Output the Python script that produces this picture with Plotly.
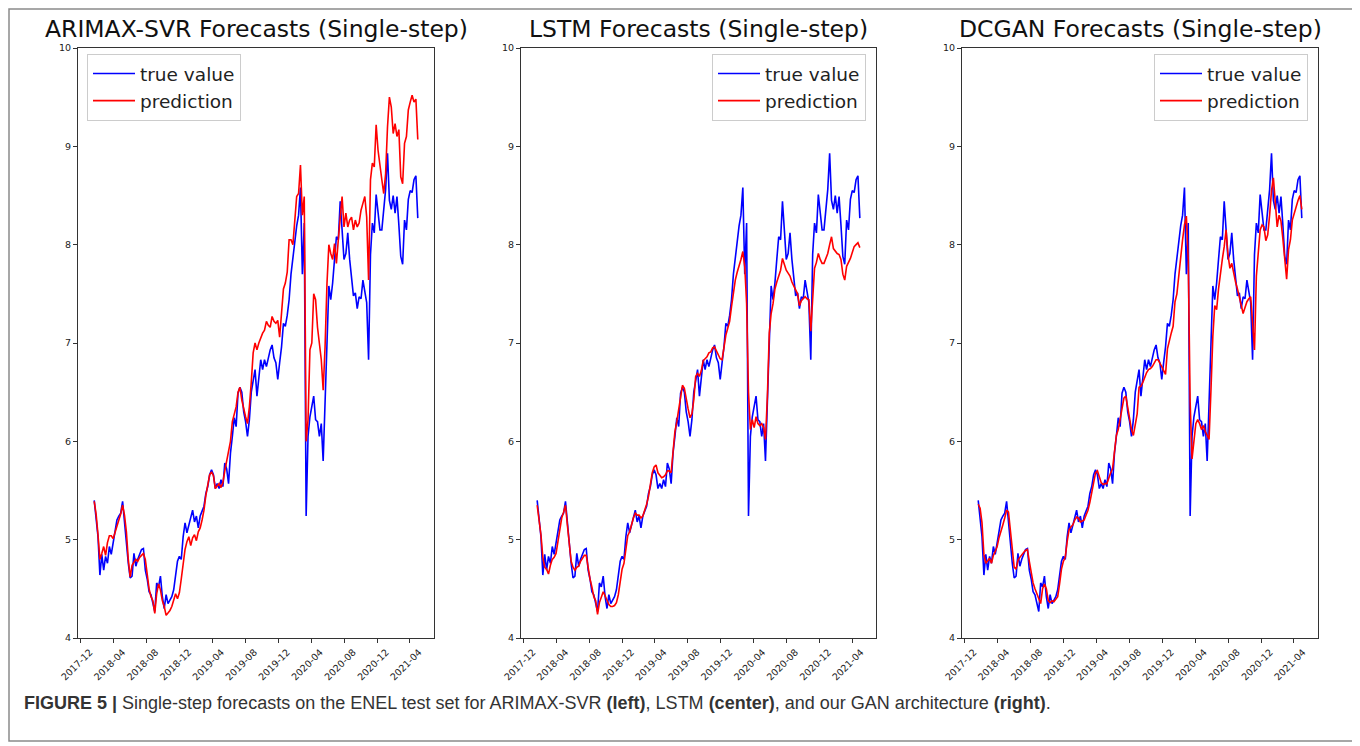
import pandas as pd
import plotly.graph_objects as go

# ---------------- data ----------------
START_DATE = "2018-01-19"   # weekly samples of the ENEL test set
N_WEEKS = 172

TRUE_VALUE = [
    5.40, 5.24, 5.03, 4.64, 4.85, 4.69, 4.83, 4.76, 4.93, 4.85,
    4.96, 5.08, 5.20, 5.24, 5.27, 5.39, 5.17, 4.92, 4.76, 4.61,
    4.63, 4.86, 4.73, 4.80, 4.86, 4.90, 4.91, 4.69, 4.60, 4.47,
    4.44, 4.35, 4.27, 4.56, 4.52, 4.63, 4.42, 4.30, 4.44, 4.35,
    4.39, 4.42, 4.49, 4.62, 4.78, 4.83, 4.80, 5.03, 5.17, 5.07,
    5.15, 5.22, 5.30, 5.18, 5.24, 5.12, 5.24, 5.29, 5.34, 5.47,
    5.54, 5.66, 5.71, 5.66, 5.52, 5.57, 5.52, 5.61, 5.54, 5.78,
    5.72, 5.57, 5.88, 6.05, 6.24, 6.15, 6.49, 6.55, 6.50, 6.30,
    6.20, 6.05, 6.22, 6.50, 6.63, 6.73, 6.46, 6.66, 6.83, 6.73,
    6.83, 6.76, 6.86, 6.93, 6.98, 6.85, 6.80, 6.63, 6.80, 6.96,
    7.20, 7.17, 7.28, 7.44, 7.70, 7.88, 8.08, 8.19, 8.30, 8.58,
    7.70, 8.22, 5.24, 6.05, 6.25, 6.35, 6.46, 6.22, 6.20, 6.05,
    6.18, 5.80, 6.46, 7.10, 7.58, 7.44, 7.61, 7.85, 8.08, 8.05,
    8.44, 8.15, 7.85, 7.91, 8.12, 7.85, 7.64, 7.48, 7.51, 7.35,
    7.47, 7.45, 7.64, 7.50, 7.41, 6.83, 7.90, 8.22, 8.12, 8.51,
    8.32, 8.15, 8.15, 8.34, 8.56, 8.93, 8.45, 8.36, 8.50, 8.32,
    8.49, 8.20, 7.88, 7.80, 8.25, 8.15, 8.46, 8.55, 8.53, 8.66,
    8.70, 8.27,
]

PRED_ARIMAX_SVR = [
    5.39, 5.26, 5.05, 4.80, 4.86, 4.93, 4.84, 4.97, 5.04, 5.04,
    5.01, 5.08, 5.15, 5.20, 5.26, 5.35, 5.25, 5.08, 4.80, 4.62,
    4.74, 4.77, 4.80, 4.78, 4.82, 4.84, 4.86, 4.80, 4.66, 4.50,
    4.42, 4.38, 4.25, 4.45, 4.55, 4.49, 4.38, 4.32, 4.23, 4.25,
    4.28, 4.32, 4.39, 4.45, 4.40, 4.46, 4.60, 4.75, 4.90, 4.98,
    5.03, 4.94, 5.02, 5.05, 4.99, 5.08, 5.12, 5.20, 5.30, 5.45,
    5.58, 5.66, 5.69, 5.65, 5.52, 5.55, 5.57, 5.53, 5.58, 5.70,
    5.80, 5.88, 6.00, 6.20, 6.28, 6.35, 6.50, 6.55, 6.42, 6.32,
    6.25, 6.18, 6.35, 6.60, 6.90, 7.00, 6.93, 7.00, 7.06, 7.10,
    7.13, 7.22, 7.18, 7.16, 7.27, 7.22, 7.20, 7.23, 7.06, 7.30,
    7.55, 7.61, 7.72, 8.05, 8.05, 8.00, 8.25, 8.49, 8.52, 8.81,
    8.30, 8.49, 6.00, 6.22, 6.93, 7.00, 7.50, 7.44, 7.16, 7.00,
    6.83, 6.52, 6.96, 7.60, 8.00, 7.91, 7.85, 8.01, 7.81, 8.05,
    8.30, 8.49, 8.18, 8.32, 8.18, 8.25, 8.28, 8.15, 8.25, 8.18,
    8.22, 8.35, 8.42, 8.49, 8.28, 7.64, 8.66, 8.83, 8.79, 9.22,
    8.96, 8.79, 8.66, 8.52, 8.72, 9.20, 9.50, 9.40, 9.13, 9.23,
    9.10, 9.17, 8.69, 8.62, 9.03, 9.10, 9.37, 9.45, 9.52, 9.45,
    9.48, 9.07,
]

PRED_LSTM = [
    5.35, 5.20, 5.05, 4.82, 4.72, 4.70, 4.65, 4.74, 4.80, 4.82,
    4.86, 4.98, 5.12, 5.22, 5.28, 5.35, 5.15, 4.95, 4.78, 4.72,
    4.69, 4.72, 4.73, 4.78, 4.81, 4.84, 4.84, 4.71, 4.60, 4.52,
    4.42, 4.38, 4.24, 4.36, 4.42, 4.47, 4.43, 4.38, 4.34, 4.32,
    4.32, 4.33, 4.36, 4.44, 4.60, 4.70, 4.76, 4.93, 5.04, 5.08,
    5.16, 5.22, 5.27, 5.25, 5.25, 5.22, 5.24, 5.29, 5.36, 5.44,
    5.55, 5.68, 5.74, 5.76, 5.68, 5.65, 5.63, 5.64, 5.66, 5.70,
    5.70, 5.68, 5.88, 6.10, 6.20, 6.32, 6.48, 6.57, 6.54, 6.42,
    6.33, 6.24, 6.28, 6.42, 6.66, 6.69, 6.66, 6.72, 6.82, 6.84,
    6.86, 6.90, 6.91, 6.95, 6.96, 6.92, 6.87, 6.84, 6.83, 6.98,
    7.08, 7.15, 7.22, 7.37, 7.52, 7.64, 7.72, 7.78, 7.85, 7.93,
    7.78, 7.40, 6.50, 6.12, 6.22, 6.14, 6.25, 6.18, 6.16, 6.18,
    6.14, 6.02, 6.45, 7.10, 7.30, 7.40, 7.55, 7.62, 7.68, 7.74,
    7.86, 7.80, 7.74, 7.71, 7.68, 7.62, 7.58, 7.53, 7.50, 7.38,
    7.43, 7.45, 7.47, 7.45, 7.44, 7.12, 7.50, 7.76, 7.82, 7.91,
    7.85, 7.81, 7.81, 7.86, 7.91, 8.00, 8.08, 7.96, 7.93, 7.91,
    7.90, 7.85, 7.70, 7.64, 7.78, 7.82, 7.86, 7.92, 7.98, 8.00,
    8.02, 7.97,
]

PRED_DCGAN = [
    5.36, 5.32, 5.17, 4.85, 4.76, 4.78, 4.81, 4.76, 4.84, 4.88,
    4.93, 5.02, 5.10, 5.15, 5.22, 5.30, 5.28, 5.10, 4.88, 4.72,
    4.70, 4.79, 4.82, 4.85, 4.87, 4.89, 4.90, 4.78, 4.66, 4.56,
    4.50, 4.45, 4.40, 4.35, 4.50, 4.55, 4.50, 4.38, 4.36, 4.38,
    4.37, 4.40, 4.42, 4.55, 4.70, 4.78, 4.82, 4.98, 5.10, 5.13,
    5.15, 5.20, 5.23, 5.22, 5.18, 5.19, 5.20, 5.25, 5.30, 5.38,
    5.48, 5.57, 5.68, 5.70, 5.64, 5.58, 5.56, 5.57, 5.57, 5.63,
    5.68, 5.72, 5.92, 6.06, 6.12, 6.22, 6.36, 6.44, 6.46, 6.34,
    6.22, 6.12, 6.06, 6.18, 6.28, 6.55, 6.56, 6.60, 6.66, 6.70,
    6.73, 6.74, 6.76, 6.80, 6.83, 6.83, 6.80, 6.76, 6.72, 6.68,
    6.94, 7.03, 7.10, 7.17, 7.42, 7.50, 7.70, 7.85, 8.05, 8.20,
    8.29, 7.85, 6.40, 5.82, 6.02, 6.18, 6.22, 6.18, 6.12, 6.16,
    6.10, 6.06, 6.02, 6.52, 7.07, 7.38, 7.34, 7.55, 7.72, 7.85,
    7.98, 8.15, 7.90, 7.76, 7.81, 7.70, 7.62, 7.55, 7.47, 7.41,
    7.30, 7.36, 7.42, 7.45, 7.47, 7.20, 6.93, 7.68, 7.95, 8.15,
    8.20, 8.18, 8.04, 8.10, 8.30, 8.55, 8.68, 8.38, 8.18, 8.30,
    8.24, 8.06, 7.82, 7.65, 7.95, 8.05, 8.25, 8.32, 8.39, 8.45,
    8.50, 8.36,
]

PANEL_TITLES = [
    "ARIMAX-SVR Forecasts (Single-step)",
    "LSTM Forecasts (Single-step)",
    "DCGAN Forecasts (Single-step)",
]
SERIES_NAMES = ["true value", "prediction"]
X_TICK_LABELS = ["2017-12", "2018-04", "2018-08", "2018-12", "2019-04", "2019-08",
                 "2019-12", "2020-04", "2020-08", "2020-12", "2021-04"]
Y_TICKS = [4, 5, 6, 7, 8, 9, 10]
CAPTION = ("<b>FIGURE 5 |</b> Single-step forecasts on the ENEL test set for ARIMAX-SVR "
           "<b>(left)</b>, LSTM <b>(center)</b>, and our GAN architecture <b>(right)</b>.")

# ---------------- figure ----------------
# the page body keeps its default 8px margin, so the figure is drawn 8px smaller
# and every screen position is offset by that margin
PAGE_MARGIN = 8
W, H = 1360 - PAGE_MARGIN, 746 - PAGE_MARGIN
dates = pd.date_range(START_DATE, periods=N_WEEKS, freq="7D")
preds = [PRED_ARIMAX_SVR, PRED_LSTM, PRED_DCGAN]


def px(x):
    return (x - PAGE_MARGIN) / W


def py(y):
    return 1 - (y - PAGE_MARGIN) / H


x_domains = [(78, 434), (521, 876), (962, 1318)]
y_top, y_bot = 48, 638
legend_boxes = [(87, "left"), (866, "right"), (1308, "right")]

fig = go.Figure()
layout = dict(
    width=W, height=H,
    margin=dict(l=0, r=0, t=0, b=0, autoexpand=False),
    paper_bgcolor="white", plot_bgcolor="white",
    showlegend=True,
    font=dict(family="DejaVu Sans", color="#222"),
)

annotations = []
for i in range(3):
    sfx = "" if i == 0 else str(i + 1)
    xa, ya = "x" + sfx, "y" + sfx
    leg = "legend" + sfx
    fig.add_trace(go.Scatter(x=dates, y=TRUE_VALUE, mode="lines", name=SERIES_NAMES[0],
                             line=dict(color="#0000ff", width=1.6), xaxis=xa, yaxis=ya,
                             legend=leg, legendgroup=f"t{i}"))
    fig.add_trace(go.Scatter(x=dates, y=preds[i], mode="lines", name=SERIES_NAMES[1],
                             line=dict(color="#ff0000", width=1.6), xaxis=xa, yaxis=ya,
                             legend=leg, legendgroup=f"p{i}"))
    x0, x1 = x_domains[i]
    layout["xaxis" + sfx] = dict(
        domain=[px(x0), px(x1)], anchor=ya, type="date", automargin=False,
        range=["2017-11-20", "2021-06-29"],
        tickvals=[lbl + "-01" for lbl in X_TICK_LABELS], ticktext=X_TICK_LABELS,
        tickangle=-45, ticks="outside", ticklen=4, tickwidth=1, tickcolor="#333",
        ticklabelshift=9,
        tickfont=dict(size=9.5, family="DejaVu Sans", color="#222"),
        showline=True, linecolor="#333", linewidth=1, mirror=True,
        showgrid=False, zeroline=False,
    )
    layout["yaxis" + sfx] = dict(
        domain=[py(y_bot), py(y_top)], anchor=xa, range=[4, 10], automargin=False,
        tickvals=Y_TICKS, ticks="outside", ticklen=4, tickwidth=1, tickcolor="#333",
        tickfont=dict(size=9.5, family="DejaVu Sans", color="#222"),
        showline=True, linecolor="#333", linewidth=1, mirror=True,
        showgrid=False, zeroline=False,
    )
    lx, anchor = legend_boxes[i]
    layout[leg] = dict(
        x=px(lx), xanchor=anchor, y=py(54), yanchor="top",
        xref="paper", yref="paper",
        bgcolor="rgba(255,255,255,0.85)", bordercolor="#cccccc", borderwidth=1,
        font=dict(size=18.5, family="DejaVu Sans", color="#222"),
        itemwidth=42, tracegroupgap=0,
    )
    annotations.append(dict(
        text=PANEL_TITLES[i], x=px((x0 + x1) / 2), y=py(y_top - 3), xref="paper", yref="paper",
        xanchor="center", yanchor="bottom", showarrow=False,
        font=dict(size=23.5, family="DejaVu Sans", color="#111"),
    ))

annotations.append(dict(
    text=CAPTION, x=px(22), y=py(703), xref="paper", yref="paper",
    xanchor="left", yanchor="middle", showarrow=False,
    font=dict(size=18, family="Liberation Sans Narrow, Arial Narrow, Liberation Sans",
              color="#333"),
))
layout["annotations"] = annotations
layout["shapes"] = [dict(
    type="rect", xref="paper", yref="paper",
    x0=px(9), x1=px(1353), y0=py(741), y1=py(9),
    line=dict(color="#8a8a8a", width=1.5), fillcolor="rgba(0,0,0,0)", layer="below",
)]

fig.update_layout(**layout)
fig.write_html("out.html")
